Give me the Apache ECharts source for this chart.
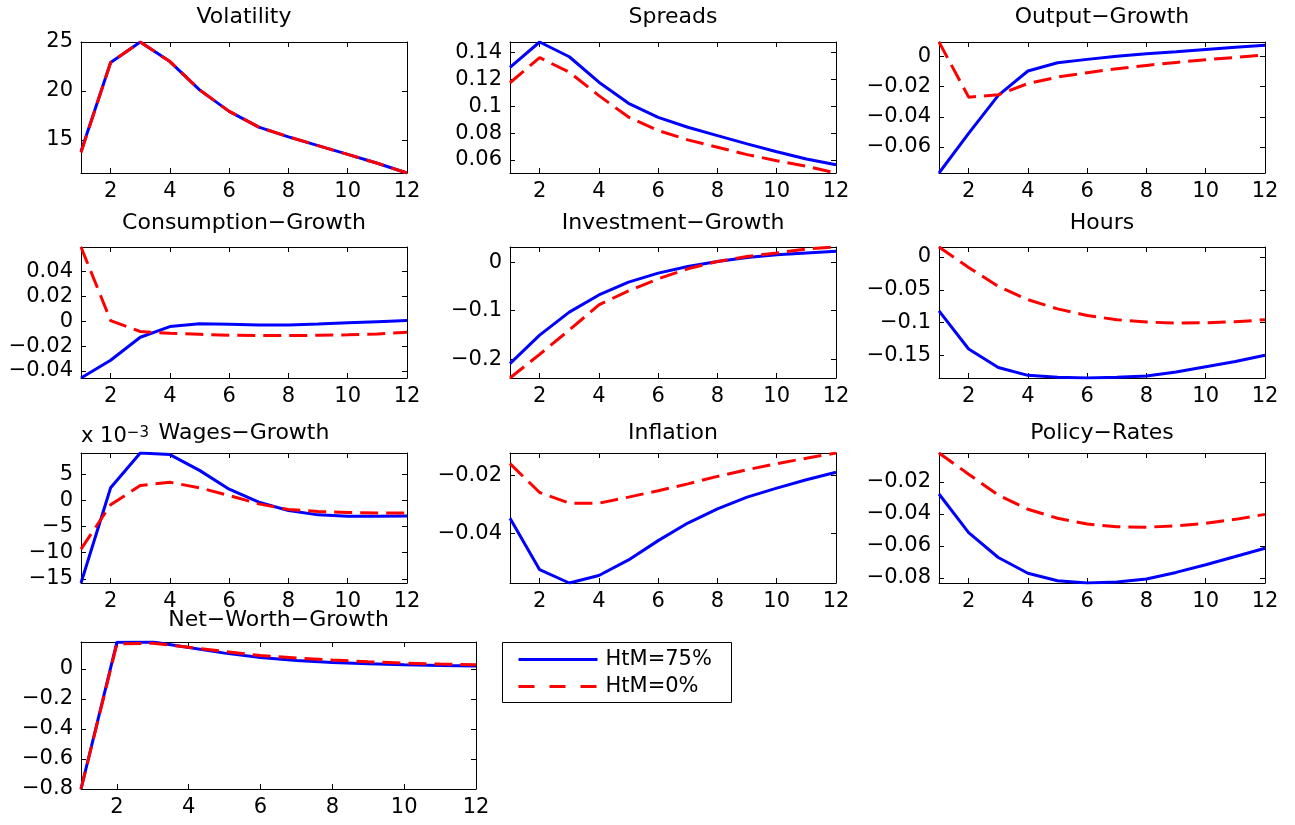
<!DOCTYPE html>
<html>
<head>
<meta charset="utf-8">
<script src="https://cdn.jsdelivr.net/npm/echarts@6/dist/echarts.min.js"></script>
<style>
  html, body { margin: 0; padding: 0; background: #fff; }
  #chart { width: 1295px; height: 825px; }
</style>
</head>
<body>
<div id="chart"></div>
<script>
// Impulse responses over 12 quarters for two shares of hand-to-mouth households
const periods = [1, 2, 3, 4, 5, 6, 7, 8, 9, 10, 11, 12];
const xTicks = [2, 4, 6, 8, 10, 12];
const seriesNames = ['HtM=75%', 'HtM=0%'];

const volatility75 = [13.8, 22.9, 25.0, 23.0, 20.1, 17.9, 16.3, 15.3, 14.4, 13.5, 12.6, 11.6];
const volatility0  = [13.7, 22.9, 25.0, 23.0, 20.1, 17.9, 16.3, 15.3, 14.4, 13.5, 12.6, 11.6];
const volatilityTicks = [15, 20, 25];

const spreads75 = [0.129, 0.148, 0.137, 0.118, 0.1023, 0.0918, 0.0844, 0.0782, 0.072, 0.0662, 0.0608, 0.0565];
const spreads0  = [0.1176, 0.1363, 0.1255, 0.108, 0.092, 0.082, 0.075, 0.0695, 0.064, 0.0595, 0.0553, 0.0503];
const spreadsTicks = [0.06, 0.08, 0.1, 0.12, 0.14];

const output75 = [-0.0772, -0.051, -0.0258, -0.0097, -0.0042, -0.002, 0.0, 0.0018, 0.003, 0.0045, 0.006, 0.0073];
const output0  = [0.0095, -0.027, -0.0254, -0.018, -0.0137, -0.0108, -0.0082, -0.006, -0.004, -0.0022, -0.0007, 0.001];
const outputTicks = [-0.06, -0.04, -0.02, 0];

const consumption75 = [-0.0457, -0.0314, -0.0129, -0.0043, -0.0021, -0.0025, -0.003, -0.003, -0.0022, -0.0013, -0.0004, 0.0005];
const consumption0  = [0.0597, 0.0005, -0.0083, -0.0097, -0.0105, -0.0113, -0.0116, -0.0116, -0.0113, -0.011, -0.0102, -0.0089];
const consumptionTicks = [-0.04, -0.02, 0, 0.02, 0.04];

const investment75 = [-0.209, -0.1505, -0.103, -0.0677, -0.0414, -0.0228, -0.009, 0.0012, 0.0095, 0.015, 0.0186, 0.022];
const investment0  = [-0.2387, -0.19, -0.14, -0.088, -0.0594, -0.0346, -0.0139, 0.0012, 0.0116, 0.0186, 0.027, 0.031];
const investmentTicks = [-0.2, -0.1, 0];

const hours75 = [-0.082, -0.140, -0.168, -0.180, -0.183, -0.184, -0.183, -0.181, -0.175, -0.167, -0.159, -0.1495];
const hours0  = [0.015, -0.016, -0.045, -0.065, -0.079, -0.089, -0.0955, -0.099, -0.1006, -0.1, -0.0985, -0.0955];
const hoursTicks = [-0.15, -0.1, -0.05, 0];

const wages75 = [-0.0158, 0.00244, 0.0091, 0.0088, 0.00577, 0.00217, -0.00033, -0.00192, -0.00275, -0.0030, -0.0030, -0.00295];
const wages0  = [-0.0093, -0.00083, 0.00288, 0.0035, 0.00244, 0.00096, -0.00064, -0.00173, -0.0021, -0.0023, -0.00237, -0.00237];
const wagesTicks = [-0.015, -0.01, -0.005, 0, 0.005];

const inflation75 = [-0.0348, -0.0527, -0.0573, -0.0547, -0.0493, -0.0426, -0.0365, -0.0316, -0.0275, -0.0244, -0.0215, -0.0189];
const inflation0  = [-0.0159, -0.0259, -0.0296, -0.0296, -0.0275, -0.0253, -0.0229, -0.0203, -0.018, -0.0159, -0.014, -0.0122];
const inflationTicks = [-0.04, -0.02];

const policy75 = [-0.0276, -0.0517, -0.0672, -0.077, -0.0817, -0.0831, -0.0825, -0.0806, -0.0765, -0.0717, -0.0666, -0.0614];
const policy0  = [-0.002, -0.0152, -0.0283, -0.0371, -0.0427, -0.0463, -0.048, -0.0483, -0.0475, -0.0458, -0.0434, -0.0403];
const policyTicks = [-0.08, -0.06, -0.04, -0.02];

const netWorth75 = [-0.8, 0.177, 0.178, 0.141, 0.104, 0.075, 0.055, 0.042, 0.033, 0.027, 0.022, 0.018];
const netWorth0  = [-0.8, 0.166, 0.17, 0.143, 0.115, 0.088, 0.071, 0.058, 0.047, 0.038, 0.031, 0.027];
const netWorthTicks = [-0.8, -0.6, -0.4, -0.2, 0];

const titles = ['Volatility', 'Spreads', 'Output\u2212Growth', 'Consumption\u2212Growth', 'Investment\u2212Growth',
  'Hours', 'Wages\u2212Growth', 'Inflation', 'Policy\u2212Rates', 'Net\u2212Worth\u2212Growth'];

const panels = [
  { blue: volatility75, red: volatility0, ticks: volatilityTicks, scale: 1 },
  { blue: spreads75, red: spreads0, ticks: spreadsTicks, scale: 1 },
  { blue: output75, red: output0, ticks: outputTicks, scale: 1 },
  { blue: consumption75, red: consumption0, ticks: consumptionTicks, scale: 1 },
  { blue: investment75, red: investment0, ticks: investmentTicks, scale: 1 },
  { blue: hours75, red: hours0, ticks: hoursTicks, scale: 1 },
  { blue: wages75, red: wages0, ticks: wagesTicks, scale: 1000 },
  { blue: inflation75, red: inflation0, ticks: inflationTicks, scale: 1 },
  { blue: policy75, red: policy0, ticks: policyTicks, scale: 1 },
  { blue: netWorth75, red: netWorth0, ticks: netWorthTicks, scale: 1 }
];

// Plot boxes (pixels) for the 4x3 subplot layout
const colLeft = [81, 510, 939];
const rowTop = [42, 247, 453];
const rowHeight = [131, 131, 130];
const boxes = [];
for (let i = 0; i < 9; i++) {
  const r = Math.floor(i / 3), c = i % 3;
  boxes.push({ left: colLeft[c], top: rowTop[r], width: 326, height: rowHeight[r] });
}
boxes.push({ left: 81, top: 642, width: 395, height: 147 });
const titleTop = [6, 6, 6, 212, 212, 212, 422, 422, 422, 609];

const FONT = 'DejaVu Sans';
const BLUE = '#0000ff';
const RED = '#ff0000';

function fmt(v, scale) {
  const s = String(parseFloat((v * scale).toFixed(6)));
  return s.replace('-', '\u2212');
}

const grid = [], xAxis = [], yAxis = [], series = [], title = [];

panels.forEach((p, g) => {
  const b = boxes[g];
  const all = p.blue.concat(p.red);
  const yMin = Math.min(...all), yMax = Math.max(...all);

  grid.push({ left: b.left, top: b.top, width: b.width, height: b.height,
    containLabel: false, outerBoundsMode: 'none', show: true, backgroundColor: '#fff', borderWidth: 0 });

  title.push({
    text: titles[g], left: b.left + b.width / 2, top: titleTop[g], textAlign: 'center', padding: 0,
    textStyle: { fontFamily: FONT, fontSize: 22, fontWeight: 'normal', color: '#000' }
  });

  const tickStyle = { color: '#000', width: 1 };
  const lineStyle = { color: '#000', width: 1 };

  xAxis.push({
    type: 'value', gridIndex: g, min: 1, max: 12, position: 'bottom',
    axisLine: { show: true, onZero: false, lineStyle },
    axisTick: { show: true, inside: true, length: 5, customValues: xTicks, lineStyle: tickStyle },
    axisLabel: { show: true, customValues: xTicks, margin: 8, color: '#000', fontFamily: FONT, fontSize: 21 },
    splitLine: { show: false }
  });
  xAxis.push({
    type: 'value', gridIndex: g, min: 1, max: 12, position: 'top',
    axisLine: { show: true, onZero: false, lineStyle },
    axisTick: { show: true, inside: true, length: 5, customValues: xTicks, lineStyle: tickStyle },
    axisLabel: { show: false },
    splitLine: { show: false }
  });

  const yMain = {
    type: 'value', gridIndex: g, min: yMin, max: yMax, position: 'left',
    axisLine: { show: true, onZero: false, lineStyle },
    axisTick: { show: true, inside: true, length: 5, customValues: p.ticks, lineStyle: tickStyle },
    axisLabel: { show: true, customValues: p.ticks, margin: 8, color: '#000', fontFamily: FONT, fontSize: 21,
      formatter: (v) => fmt(v, p.scale) },
    splitLine: { show: false }
  };
  if (p.scale !== 1) {
    // scale factor note above the axis
    yMain.name = '{base|x 10}{sup|\u22123}';
    yMain.nameLocation = 'end';
    yMain.nameGap = 6;
    yMain.nameTextStyle = {
      align: 'left', verticalAlign: 'bottom', color: '#000',
      rich: {
        base: { fontFamily: FONT, fontSize: 21, color: '#000', verticalAlign: 'bottom' },
        sup: { fontFamily: FONT, fontSize: 15, color: '#000', verticalAlign: 'top' }
      }
    };
  }
  yAxis.push(yMain);
  yAxis.push({
    type: 'value', gridIndex: g, min: yMin, max: yMax, position: 'right',
    axisLine: { show: true, onZero: false, lineStyle },
    axisTick: { show: true, inside: true, length: 5, customValues: p.ticks, lineStyle: tickStyle },
    axisLabel: { show: false },
    splitLine: { show: false }
  });

  series.push({
    name: seriesNames[0], type: 'line', xAxisIndex: 2 * g, yAxisIndex: 2 * g,
    data: periods.map((x, i) => [x, p.blue[i]]),
    symbol: 'none', clip: true,
    lineStyle: { color: BLUE, width: 3 }, itemStyle: { color: BLUE }
  });
  series.push({
    name: seriesNames[1], type: 'line', xAxisIndex: 2 * g, yAxisIndex: 2 * g,
    data: periods.map((x, i) => [x, p.red[i]]),
    symbol: 'none', clip: true,
    lineStyle: { color: RED, width: 3, type: [18, 8] }, itemStyle: { color: RED }
  });
});

// Legend box next to the last panel
const legendGraphic = {
  type: 'group', left: 502, top: 642,
  children: [
    { type: 'rect', shape: { x: 0, y: 0, width: 229, height: 60 },
      style: { fill: '#fff', stroke: '#000', lineWidth: 1 } },
    { type: 'line', shape: { x1: 16, y1: 17, x2: 95, y2: 17 },
      style: { stroke: BLUE, lineWidth: 3 } },
    { type: 'line', shape: { x1: 16, y1: 44, x2: 95, y2: 44 },
      style: { stroke: RED, lineWidth: 3, lineDash: [16, 15] } },
    { type: 'text', x: 103, y: 17,
      style: { text: seriesNames[0], fill: '#000', font: '21px "DejaVu Sans"', textVerticalAlign: 'middle', verticalAlign: 'middle' } },
    { type: 'text', x: 103, y: 44,
      style: { text: seriesNames[1], fill: '#000', font: '21px "DejaVu Sans"', textVerticalAlign: 'middle', verticalAlign: 'middle' } }
  ]
};

const chart = echarts.init(document.getElementById('chart'), null, { renderer: 'canvas' });
chart.setOption({
  animation: false,
  backgroundColor: '#fff',
  title, grid, xAxis, yAxis, series,
  graphic: [legendGraphic]
});
</script>
</body>
</html>
